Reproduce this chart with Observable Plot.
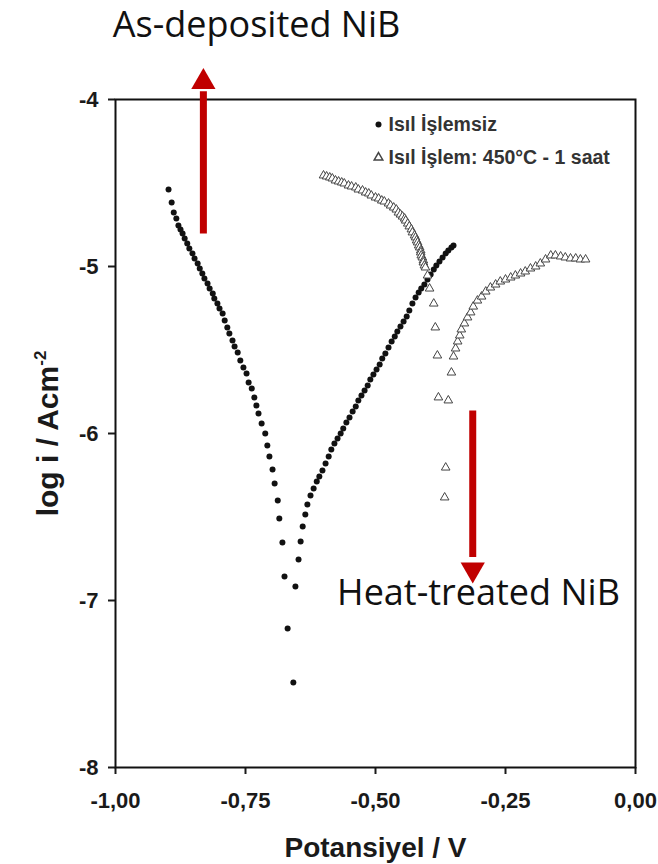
<!DOCTYPE html>
<html><head><meta charset="utf-8">
<script src="https://cdn.jsdelivr.net/npm/d3@7"></script>
<script src="https://cdn.jsdelivr.net/npm/@observablehq/plot@0.6"></script>
<style>body{margin:0;background:#fff}</style>
</head><body><div id="chart"></div>
<script>
const xTicks = [-1, -0.75, -0.5, -0.25, 0];
const yTicks = [-8, -7, -6, -5, -4];
const xTitle = "Potansiyel / V";
const yTitle = "log i / Acm-2";
const legendLabels = ["Isıl İşlemsiz", "Isıl İşlem: 450°C - 1 saat"];
const annoText = ["As-deposited NiB", "Heat-treated NiB"];

// Isıl İşlemsiz (as-deposited): potential (V), log i
const asDepE = [-0.898,-0.892,-0.888,-0.883,-0.879,-0.875,-0.871,-0.867,-0.862,-0.858,-0.852,-0.848,-0.842,-0.838,-0.833,-0.829,-0.823,-0.819,-0.813,-0.810,-0.804,-0.800,-0.794,-0.790,-0.785,-0.781,-0.775,-0.771,-0.765,-0.760,-0.754,-0.748,-0.744,-0.738,-0.733,-0.729,-0.725,-0.719,-0.712,-0.708,-0.704,-0.698,-0.694,-0.688,-0.685,-0.679,-0.675,-0.669,-0.658,
  -0.654,-0.648,-0.644,-0.640,-0.635,-0.631,-0.625,-0.619,-0.613,-0.608,-0.602,-0.596,-0.590,-0.585,-0.579,-0.573,-0.567,-0.562,-0.556,-0.550,-0.544,-0.538,-0.533,-0.527,-0.521,-0.515,-0.510,-0.504,-0.498,-0.492,-0.487,-0.481,-0.475,-0.469,-0.463,-0.458,-0.452,-0.446,-0.440,-0.435,-0.429,-0.423,-0.417,-0.412,-0.406,-0.400,-0.394,-0.388,-0.383,-0.377,-0.371,-0.365,-0.360,-0.354,-0.350];
const asDepLogI = [-4.539,-4.617,-4.677,-4.713,-4.754,-4.778,-4.802,-4.832,-4.862,-4.892,-4.922,-4.952,-4.982,-5.012,-5.042,-5.072,-5.102,-5.132,-5.162,-5.192,-5.222,-5.251,-5.281,-5.323,-5.365,-5.401,-5.443,-5.479,-5.515,-5.563,-5.605,-5.641,-5.695,-5.731,-5.784,-5.832,-5.880,-5.940,-6.000,-6.072,-6.138,-6.216,-6.299,-6.401,-6.509,-6.653,-6.856,-7.168,-7.491,
  -6.916,-6.754,-6.647,-6.557,-6.485,-6.425,-6.371,-6.329,-6.287,-6.257,-6.222,-6.180,-6.138,-6.096,-6.060,-6.030,-6.000,-5.970,-5.934,-5.904,-5.868,-5.838,-5.802,-5.772,-5.743,-5.713,-5.677,-5.647,-5.617,-5.587,-5.551,-5.521,-5.485,-5.449,-5.419,-5.389,-5.359,-5.329,-5.299,-5.263,-5.222,-5.186,-5.156,-5.132,-5.108,-5.078,-5.048,-5.018,-4.994,-4.970,-4.946,-4.922,-4.904,-4.886,-4.874];

// Isıl İşlem 450°C - 1 saat (heat-treated)
const heatE = [-0.600,-0.594,-0.588,-0.583,-0.577,-0.571,-0.565,-0.560,-0.552,-0.546,-0.538,-0.533,-0.525,-0.519,-0.513,-0.508,-0.500,-0.494,-0.488,-0.483,-0.475,-0.471,-0.465,-0.460,-0.456,-0.452,-0.448,-0.444,-0.442,-0.438,-0.435,-0.431,-0.429,-0.425,-0.423,-0.421,-0.419,-0.417,-0.415,-0.413,-0.413,-0.412,-0.410,-0.408,-0.408,-0.406,-0.404,-0.400,-0.396,-0.388,-0.385,-0.381,-0.379,-0.365,-0.367,
  -0.360,-0.354,-0.350,-0.346,-0.342,-0.338,-0.335,-0.329,-0.323,-0.317,-0.312,-0.304,-0.296,-0.288,-0.279,-0.269,-0.260,-0.250,-0.240,-0.231,-0.221,-0.212,-0.202,-0.192,-0.183,-0.173,-0.163,-0.154,-0.144,-0.135,-0.125,-0.115,-0.106,-0.096];
const heatLogI = [-4.455,-4.461,-4.467,-4.473,-4.485,-4.491,-4.497,-4.503,-4.515,-4.521,-4.527,-4.539,-4.545,-4.557,-4.563,-4.575,-4.587,-4.593,-4.605,-4.611,-4.623,-4.635,-4.647,-4.659,-4.677,-4.689,-4.701,-4.713,-4.725,-4.743,-4.760,-4.778,-4.796,-4.814,-4.826,-4.844,-4.856,-4.874,-4.886,-4.904,-4.916,-4.934,-4.946,-4.964,-4.976,-4.994,-5.006,-5.054,-5.132,-5.222,-5.365,-5.533,-5.784,-6.204,-6.383,
  -5.802,-5.635,-5.539,-5.491,-5.449,-5.413,-5.377,-5.341,-5.305,-5.275,-5.240,-5.204,-5.180,-5.150,-5.126,-5.108,-5.090,-5.078,-5.066,-5.054,-5.042,-5.030,-5.012,-5.000,-4.982,-4.958,-4.934,-4.934,-4.940,-4.946,-4.952,-4.952,-4.958,-4.958];

// annotation arrows (data units)
const arrowX = [-0.831, -0.313];
const arrowFrom = [-4.802, -5.862];
const arrowTo = [-3.95, -6.74];
const arrowHead = [-3.895, -6.815];
const arrowRotate = [0, 180];

const asDep = asDepE.map((E, i) => ({E, logI: asDepLogI[i]}));
const heat = heatE.map((E, i) => ({E, logI: heatLogI[i]}));
const arrows = arrowX.map((x, i) => ({x, y1: arrowFrom[i], y2: arrowTo[i], yh: arrowHead[i], rot: arrowRotate[i]}));

const red = "#c00000";
const annoFont = "'Open Sans', 'Noto Sans', sans-serif";

const chart = Plot.plot({
  width: 658, height: 864,
  marginTop: 99, marginLeft: 115, marginRight: 23, marginBottom: 97,
  style: {fontFamily: "'Liberation Sans', Arial, sans-serif", fontWeight: "bold", fontSize: "22px", color: "#1a1a1a", background: "#fff"},
  x: {domain: [-1, 0]},
  y: {domain: [-8, -4]},
  marks: [
    Plot.axisX({ticks: xTicks, tickSize: 7, tickPadding: 18, strokeWidth: 2, tickFormat: d => d.toFixed(2).replace(".", ","), label: null, fontSize: 22, fontWeight: "bold"}),
    Plot.axisY({ticks: yTicks, tickSize: 7, tickPadding: 10, strokeWidth: 2, tickFormat: d => String(d), label: null, fontSize: 22, fontWeight: "bold"}),
    Plot.dot(asDep, {x: "E", y: "logI", r: 3, fill: "#111", stroke: "none"}),
    Plot.dot(heat, {x: "E", y: "logI", symbol: "triangle", r: 3.2, fill: "white", stroke: "#444", strokeWidth: 1}),
    Plot.frame({stroke: "#111", strokeWidth: 2}),
    // legend
    Plot.dot([legendLabels[0]], {frameAnchor: "top-left", dx: 263, dy: 25, r: 3, fill: "#111"}),
    Plot.dot([legendLabels[1]], {frameAnchor: "top-left", dx: 263, dy: 58, r: 3.2, symbol: "triangle", fill: "white", stroke: "#444"}),
    Plot.text([legendLabels[0]], {frameAnchor: "top-left", dx: 273, dy: 25, text: d => d, textAnchor: "start", lineAnchor: "middle", fontSize: 19.5, fill: "#333"}),
    Plot.text([legendLabels[1]], {frameAnchor: "top-left", dx: 273, dy: 58, text: d => d, textAnchor: "start", lineAnchor: "middle", fontSize: 19.5, fill: "#333"}),
    // axis titles
    Plot.text([xTitle], {frameAnchor: "bottom", dy: 81, text: d => d, textAnchor: "middle", lineAnchor: "middle", fontSize: 28}),
    Plot.text([yTitle], {frameAnchor: "left", dx: -67, rotate: -90, text: d => d, textAnchor: "middle", lineAnchor: "middle", fontSize: 30}),
    // annotations
    Plot.link(arrows, {x1: "x", x2: "x", y1: "y1", y2: "y2", stroke: red, strokeWidth: 7}),
    Plot.dot(arrows, {x: "x", y: "yh", rotate: "rot", symbol: "triangle", r: 9, fill: red, stroke: "none"}),
    Plot.text([annoText[0]], {frameAnchor: "top-left", dx: 141, dy: -74, text: d => d, textAnchor: "middle", lineAnchor: "middle", fontFamily: annoFont, fontWeight: "normal", fontSize: 36, fill: "#111"}),
    Plot.text([annoText[1]], {frameAnchor: "top-left", dx: 363, dy: 494, text: d => d, textAnchor: "middle", lineAnchor: "middle", fontFamily: annoFont, fontWeight: "normal", fontSize: 36, fill: "#111"})
  ]
});

// superscript for the y title
d3.select(chart).selectAll("text").filter(function() { return this.textContent === yTitle; }).each(function() {
  const t = d3.select(this);
  t.text("log i / Acm");
  t.append("tspan").attr("dy", "-12").attr("font-size", "17").text("-2");
});

document.getElementById("chart").appendChild(chart);
</script>
</body></html>
